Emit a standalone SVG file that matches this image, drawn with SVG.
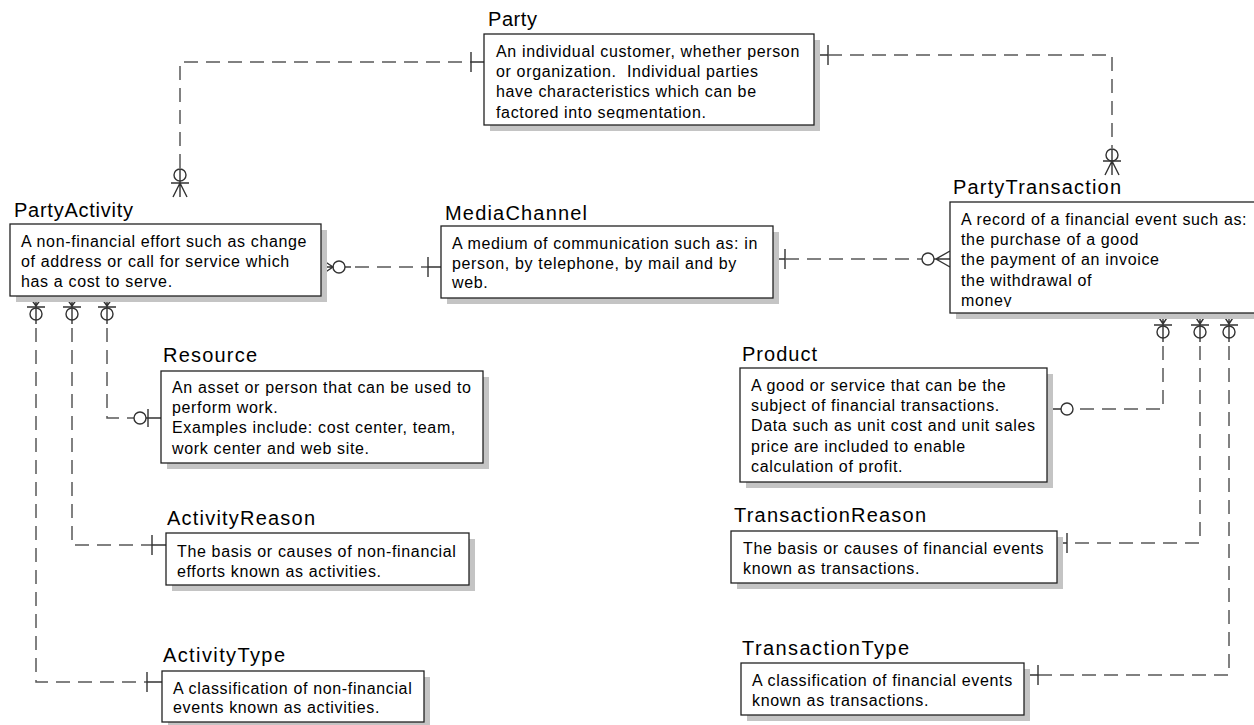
<svg xmlns="http://www.w3.org/2000/svg" width="1254" height="725" viewBox="0 0 1254 725">
  <style>
    .shadow { fill: #c4c4c4; }
    .box { fill: #ffffff; stroke: #222222; stroke-width: 1.3; }
    .title { font-family: "Liberation Sans", Arial, sans-serif; font-size: 20px; fill: #000000; }
    .body { font-family: "Liberation Sans", Arial, sans-serif; font-size: 16px; letter-spacing: 0.65px; fill: #000000; white-space: pre; }
    .conn { fill: none; stroke: #585858; stroke-width: 1.5; stroke-dasharray: 14 8; }
    .sym { fill: none; stroke: #333333; stroke-width: 1.4; }
  </style>
  <defs>
    <clipPath id="clip-party"><rect x="484" y="34" width="330" height="85"/></clipPath>
    <clipPath id="clip-ptx"><rect x="950" y="202" width="320" height="105"/></clipPath>
    <clipPath id="clip-product"><rect x="740" y="368" width="307" height="105"/></clipPath>
  </defs>

  <rect width="1254" height="725" fill="#ffffff"/>

  <!-- relationship lines and cardinality marks -->
  <g id="connectors">
    <!-- Party to PartyActivity -->
    <path class="conn" d="M180 168 V62 H471"/>
    <path class="sym" d="M471 62 H484 M471 52 V72"/>
    <circle class="sym" cx="180" cy="175" r="6"/>
    <path class="sym" d="M180 169 V197 M171 183 H189 M180 183 L173 197 M180 183 L187 197"/>

    <!-- Party to PartyTransaction -->
    <path class="sym" d="M814 55 H828 M828 45 V65"/>
    <path class="conn" d="M828 55 H1112 V148"/>
    <circle class="sym" cx="1112" cy="155" r="6"/>
    <path class="sym" d="M1112 149 V175 M1103 161 H1121 M1112 161 L1105 175 M1112 161 L1119 175"/>

    <!-- PartyActivity to MediaChannel -->
    <path class="sym" d="M321 259 L333 267 L321 275 M321 267 H333"/>
    <circle class="sym" cx="339" cy="267" r="6"/>
    <path class="sym" d="M345 267 H351"/>
    <path class="conn" d="M355 267 H428"/>
    <path class="sym" d="M428 267 H441 M428 257 V277"/>

    <!-- MediaChannel to PartyTransaction -->
    <path class="sym" d="M773 259 H785 M785 249 V269"/>
    <path class="conn" d="M785 259 H922"/>
    <circle class="sym" cx="928" cy="259" r="6"/>
    <path class="sym" d="M950 251 L936 259 L950 267 M934 259 H950"/>

    <!-- PartyActivity to Resource / ActivityReason / ActivityType -->
    <path class="sym" d="M29 296 L36 306 L43 296 M36 296 V306 M27 307 H45 M36 307 V324"/>
    <circle class="sym" cx="36" cy="314" r="6"/>
    <path class="sym" d="M65 296 L72 306 L79 296 M72 296 V306 M63 307 H81 M72 307 V324"/>
    <circle class="sym" cx="72" cy="314" r="6"/>
    <path class="sym" d="M100 296 L107 306 L114 296 M107 296 V306 M98 307 H116 M107 307 V324"/>
    <circle class="sym" cx="107" cy="314" r="6"/>

    <path class="conn" d="M107 328 V418 H134"/>
    <circle class="sym" cx="140" cy="418" r="6"/>
    <path class="sym" d="M146 418 H161 M148 409 V427"/>

    <path class="conn" d="M72 328 V545 H152"/>
    <path class="sym" d="M152 545 H166 M152 535 V555"/>

    <path class="conn" d="M36 328 V682 H147"/>
    <path class="sym" d="M147 682 H162 M147 672 V692"/>

    <!-- PartyTransaction to Product / TransactionReason / TransactionType -->
    <path class="sym" d="M1156 313 L1163 324 L1170 313 M1163 313 V324 M1154 325 H1172 M1163 325 V342"/>
    <circle class="sym" cx="1163" cy="332" r="6"/>
    <path class="sym" d="M1193 313 L1200 324 L1207 313 M1200 313 V324 M1191 325 H1209 M1200 325 V342"/>
    <circle class="sym" cx="1200" cy="332" r="6"/>
    <path class="sym" d="M1222 313 L1229 324 L1236 313 M1229 313 V324 M1220 325 H1238 M1229 325 V342"/>
    <circle class="sym" cx="1229" cy="332" r="6"/>

    <path class="conn" d="M1163 346 V409 H1073"/>
    <circle class="sym" cx="1067" cy="409" r="6"/>
    <path class="sym" d="M1047 409 H1061 M1051 400 V418"/>

    <path class="conn" d="M1200 346 V543 H1067"/>
    <path class="sym" d="M1057 543 H1067 M1067 533 V553"/>

    <path class="conn" d="M1229 346 V675 H1038"/>
    <path class="sym" d="M1024 675 H1038 M1038 665 V685"/>
  </g>

  <!-- entities -->
  <g id="party">
    <rect class="shadow" x="490" y="40" width="330" height="91"/>
    <rect class="box" x="484" y="34" width="330" height="91"/>
    <text class="title" x="488" y="26" textLength="49" lengthAdjust="spacing">Party</text>
    <g clip-path="url(#clip-party)">
      <text class="body" x="496" y="57">An individual customer, whether person</text>
      <text class="body" x="496" y="77">or organization.  Individual parties</text>
      <text class="body" x="496" y="97">have characteristics which can be</text>
      <text class="body" x="496" y="118">factored into segmentation.</text>
    </g>
  </g>

  <g id="party-transaction">
    <rect class="shadow" x="956" y="208" width="320" height="111"/>
    <rect class="box" x="950" y="202" width="320" height="111"/>
    <text class="title" x="953" y="194" textLength="168" lengthAdjust="spacing">PartyTransaction</text>
    <g clip-path="url(#clip-ptx)">
      <text class="body" x="961" y="225">A record of a financial event such as:</text>
      <text class="body" x="961" y="245">the purchase of a good</text>
      <text class="body" x="961" y="265">the payment of an invoice</text>
      <text class="body" x="961" y="286">the withdrawal of</text>
      <text class="body" x="961" y="306">money</text>
    </g>
  </g>

  <g id="party-activity">
    <rect class="shadow" x="16" y="230" width="311" height="72"/>
    <rect class="box" x="10" y="224" width="311" height="72"/>
    <text class="title" x="14" y="217" textLength="119" lengthAdjust="spacing">PartyActivity</text>
    <text class="body" x="21" y="247">A non-financial effort such as change</text>
    <text class="body" x="21" y="267">of address or call for service which</text>
    <text class="body" x="21" y="287">has a cost to serve.</text>
  </g>

  <g id="media-channel">
    <rect class="shadow" x="447" y="232" width="332" height="72"/>
    <rect class="box" x="441" y="226" width="332" height="72"/>
    <text class="title" x="445" y="220" textLength="142" lengthAdjust="spacing">MediaChannel</text>
    <text class="body" x="452" y="249">A medium of communication such as: in</text>
    <text class="body" x="452" y="269">person, by telephone, by mail and by</text>
    <text class="body" x="452" y="288">web.</text>
  </g>

  <g id="resource">
    <rect class="shadow" x="167" y="377" width="322" height="92"/>
    <rect class="box" x="161" y="371" width="322" height="92"/>
    <text class="title" x="163" y="362" textLength="94" lengthAdjust="spacing">Resource</text>
    <text class="body" x="172" y="393">An asset or person that can be used to</text>
    <text class="body" x="172" y="413">perform work.</text>
    <text class="body" x="172" y="433">Examples include: cost center, team,</text>
    <text class="body" x="172" y="454">work center and web site.</text>
  </g>

  <g id="product">
    <rect class="shadow" x="746" y="374" width="307" height="114"/>
    <rect class="box" x="740" y="368" width="307" height="114"/>
    <text class="title" x="742" y="361" textLength="75" lengthAdjust="spacing">Product</text>
    <g clip-path="url(#clip-product)">
      <text class="body" x="751" y="391">A good or service that can be the</text>
      <text class="body" x="751" y="411">subject of financial transactions.</text>
      <text class="body" x="751" y="431">Data such as unit cost and unit sales</text>
      <text class="body" x="751" y="452">price are included to enable</text>
      <text class="body" x="751" y="472">calculation of profit.</text>
    </g>
  </g>

  <g id="activity-reason">
    <rect class="shadow" x="172" y="539" width="303" height="52"/>
    <rect class="box" x="166" y="533" width="303" height="52"/>
    <text class="title" x="167" y="525" textLength="148" lengthAdjust="spacing">ActivityReason</text>
    <text class="body" x="177" y="557">The basis or causes of non-financial</text>
    <text class="body" x="177" y="577">efforts known as activities.</text>
  </g>

  <g id="activity-type">
    <rect class="shadow" x="168" y="677" width="262" height="51"/>
    <rect class="box" x="162" y="671" width="262" height="51"/>
    <text class="title" x="163" y="662" textLength="122" lengthAdjust="spacing">ActivityType</text>
    <text class="body" x="173" y="694">A classification of non-financial</text>
    <text class="body" x="173" y="713">events known as activities.</text>
  </g>

  <g id="transaction-reason">
    <rect class="shadow" x="737" y="537" width="326" height="52"/>
    <rect class="box" x="731" y="531" width="326" height="52"/>
    <text class="title" x="734" y="522" textLength="192" lengthAdjust="spacing">TransactionReason</text>
    <text class="body" x="743" y="554">The basis or causes of financial events</text>
    <text class="body" x="743" y="574">known as transactions.</text>
  </g>

  <g id="transaction-type">
    <rect class="shadow" x="747" y="669" width="283" height="52"/>
    <rect class="box" x="741" y="663" width="283" height="52"/>
    <text class="title" x="742" y="655" textLength="167" lengthAdjust="spacing">TransactionType</text>
    <text class="body" x="752" y="686">A classification of financial events</text>
    <text class="body" x="752" y="706">known as transactions.</text>
  </g>
</svg>
